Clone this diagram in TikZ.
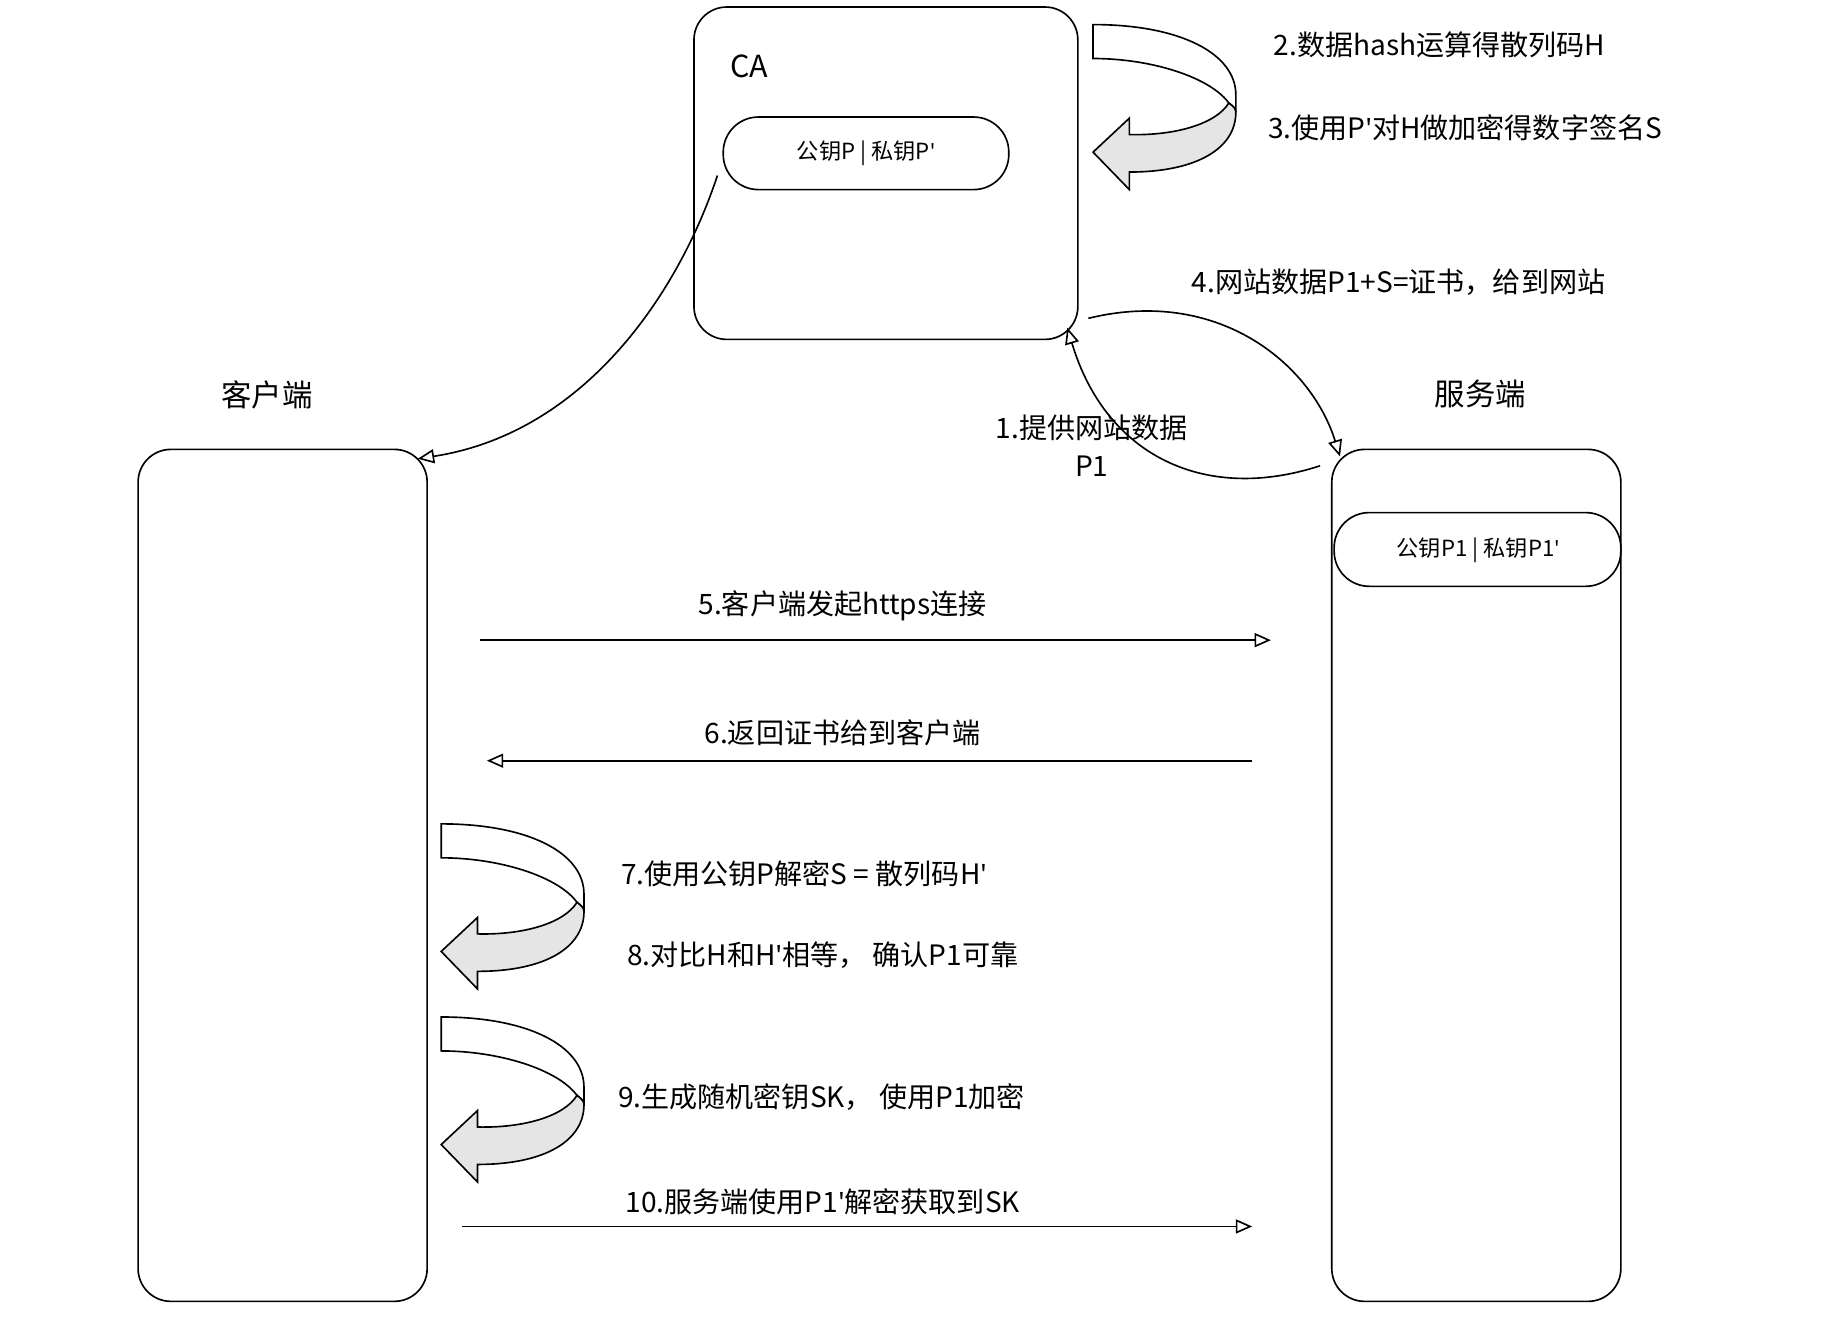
\documentclass[tikz,border=0pt]{standalone}
\usepackage{fontspec}
\setmainfont{Noto Sans CJK SC}
\newfontfamily\latinf{Noto Sans}
\usetikzlibrary{arrows.meta}
\newcommand\myap{{\latinf\char39\relax}}
\begin{document}
\begin{tikzpicture}[x=0.5pt,y=-0.5pt,line width=0.7pt,
 box/.style={draw,rounded corners=14pt},
 lbl/.style={font=\fontsize{12}{14}\selectfont,inner sep=0},
 small/.style={font=\fontsize{9.5}{11}\selectfont,inner sep=0},
 big/.style={font=\fontsize{13}{15}\selectfont,inner sep=0},
 arr/.style={-{Triangle[open,length=7pt,width=6pt]}},
 pics/uturn/.style={code={
  \draw (0,0) .. controls (75,0) and (122,25) .. (122,60) -- (122,75)
    .. controls (122,72) and (120,70) .. (116,67) .. controls (100,45) and (50,29) .. (0,29) -- cycle;
  \draw[fill=gray!20] (116,67) .. controls (105,85) and (70,95) .. (31,94) -- (31,80) -- (0,109) -- (31,141) -- (31,126)
    .. controls (90,126) and (122,105) .. (122,75) .. controls (122,72) and (120,70) .. (116,67) -- cycle;
 }}]
\useasboundingbox (0,0) rectangle (1568,1146);
% CA
\draw[box] (593,6) rectangle (921,290);
\node[big] (ca) at (640,57) {CA};
\draw[rounded corners=15pt] (618,100) rectangle (862,162);
\node[small] (cak) at (740,131) {公钥P\ |\ 私钥P\myap};
\coordinate (caout) at (613,150);
\pic at (934,21) {uturn};
\node[lbl] (t2) at (1230,38) {2.数据hash运算得散列码H};
\node[lbl] (t3) at (1252,109) {3.使用P\myap 对H做加密得数字签名S};
\node[lbl] (t4) at (1195,241) {4.网站数据P1+S=证书，给到网站};
% client & server
\node[big] (cl) at (228,337) {客户端};
\node[big] (sv) at (1265,337) {服务端};
\draw[box] (118,384) rectangle (365,1112);
\draw[box] (1138,384) rectangle (1385,1112);
\draw[rounded corners=15pt] (1140,438) rectangle (1385,501);
\node[small] (svk) at (1263,470) {公钥P1\ |\ 私钥P1\myap};
% curves
\coordinate (a4s) at (930,272); \coordinate (a4e) at (1145,390);
\draw[arr] (a4s) .. controls (1040,245) and (1120,310) .. (a4e);
\coordinate (a1s) at (1128,398); \coordinate (a1e) at (912,280);
\draw[arr] (a1s) .. controls (1030,430) and (945,390) .. (a1e);
\node[lbl] (t1a) at (933,366) {1.提供网站数据};
\node[lbl] (t1b) at (933,398) {P1};
\coordinate (clin) at (357,392);
\draw[arr] (caout) .. controls (580,250) and (500,370) .. (clin);
% messages
\coordinate (a5s) at (410,547); \coordinate (a5e) at (1086,547);
\draw[arr] (a5s) -- (a5e);
\node[lbl] (t5) at (720,518) {5.客户端发起https连接};
\coordinate (a6s) at (1070,650); \coordinate (a6e) at (416,650);
\draw[arr] (a6s) -- (a6e);
\node[lbl] (t6) at (720,626) {6.返回证书给到客户端};
\pic at (377,704) {uturn};
\pic at (377,869) {uturn};
\node[lbl] (t7) at (687,747) {7.使用公钥P解密S = 散列码H\myap};
\node[lbl] (t8) at (703,816) {8.对比H和H\myap 相等， 确认P1可靠};
\node[lbl] (t9) at (702,937) {9.生成随机密钥SK， 使用P1加密};
\coordinate (a10s) at (395,1048); \coordinate (a10e) at (1070,1048);
\draw[arr] (a10s) -- (a10e);
\node[lbl] (t10) at (703,1027) {10.服务端使用P1\myap 解密获取到SK};
\end{tikzpicture}
\end{document}
